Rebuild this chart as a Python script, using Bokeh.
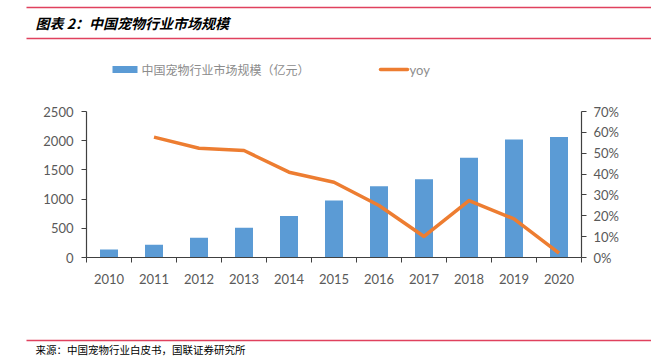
from bokeh.plotting import figure
from bokeh.layouts import column
from bokeh.models import (Range1d, LinearAxis, FixedTicker, NumeralTickFormatter,
                          Label, ColumnDataSource)
from bokeh.embed import file_html
from bokeh.resources import INLINE

years = ["2010", "2011", "2012", "2013", "2014", "2015", "2016", "2017", "2018", "2019", "2020"]
market = [137, 218, 340, 508, 711, 976, 1218, 1338, 1708, 2020, 2065]
yoy = [None, 0.577, 0.524, 0.513, 0.409, 0.361, 0.249, 0.101, 0.273, 0.185, 0.021]
left_ticks = [0, 500, 1000, 1500, 2000, 2500]
right_ticks = [0, 0.1, 0.2, 0.3, 0.4, 0.5, 0.6, 0.7]

title_text = "图表 2：中国宠物行业市场规模"
bar_name = "中国宠物行业市场规模（亿元）"
line_name = "yoy"
source_text = "来源：中国宠物行业白皮书，国联证券研究所"

BLUE = "#5B9BD5"
ORANGE = "#ED7D31"
AXIS = "#404040"
LABEL = "#595959"
RED = "#E0415E"
TICKFONT = "Lato"
CJK = "Noto Sans CJK SC"

W = 651
HEAD_H, MAIN_H, FOOT_H = 100, 200, 56
FL, FR = 86, 581
FT, FB = 111 - HEAD_H, 257 - HEAD_H  # frame top/bottom inside main figure


def deco_fig(h):
    f = figure(width=W, height=h, output_backend="svg", toolbar_location=None,
               x_range=Range1d(0, W), y_range=Range1d(h, 0),
               min_border=0, x_axis_location=None, y_axis_location=None,
               frame_align=False)
    f.outline_line_color = None
    f.grid.visible = False
    return f

# ---------- header: title, rules, legend ----------
head = deco_fig(HEAD_H)
head.segment(x0=[26, 26], y0=[7, 38], x1=[W, W], y1=[7, 38], line_color=RED, line_width=1.3)
head.add_layout(Label(x=35, y=22, text=title_text, text_font=CJK,
                      text_font_style="bold italic", text_font_size="14px",
                      text_color="black", text_baseline="middle"))
# legend swatches and labels
head.quad(left=[112], right=[137], top=[65.5], bottom=[72.5], fill_color=BLUE, line_color=None)
head.segment(x0=[380], y0=[69], x1=[407], y1=[69], line_color=ORANGE, line_width=3.5,
             line_cap="round")
head.add_layout(Label(x=141, y=69, text=bar_name, text_font=CJK, text_font_size="12px",
                      text_color="#8c8c8c", text_baseline="middle"))
head.add_layout(Label(x=409, y=69, text=line_name, text_font=TICKFONT, text_font_size="13px",
                      text_color="#8c8c8c", text_baseline="middle"))

# ---------- main chart ----------
n = len(years)
xc = [i + 0.5 for i in range(n)]
yoy_x = [xc[i] for i in range(n) if yoy[i] is not None]
yoy_y = [v for v in yoy if v is not None]

p = figure(width=W, height=MAIN_H, output_backend="svg", toolbar_location=None,
           x_range=Range1d(0, n), y_range=Range1d(0, 2500),
           min_border_left=FL, min_border_right=W - FR,
           min_border_top=FT, min_border_bottom=MAIN_H - FB,
           x_axis_location=None, y_axis_location=None, frame_align=False)
p.outline_line_color = None
p.grid.visible = False
p.extra_y_ranges = {"pct": Range1d(0, 0.7)}

src = ColumnDataSource(dict(x=xc, market=market))
p.vbar(x="x", top="market", width=0.4, source=src, fill_color=BLUE, line_color=None)
p.line(yoy_x, yoy_y, y_range_name="pct", line_color=ORANGE, line_width=3.5,
       line_join="round")

xax = LinearAxis(ticker=FixedTicker(ticks=xc, minor_ticks=list(range(n + 1))),
                 major_label_overrides={c: y for c, y in zip(xc, years)})
xax.major_tick_line_color = None
xax.minor_tick_in = 0
xax.minor_tick_out = 5
xax.minor_tick_line_color = AXIS
xax.axis_line_color = AXIS
xax.axis_line_width = 1.2
xax.major_label_standoff = 10
xax.major_label_text_font = TICKFONT
xax.major_label_text_font_size = "13px"
xax.major_label_text_color = LABEL
p.add_layout(xax, "below")

yax = LinearAxis(ticker=FixedTicker(ticks=left_ticks))
yax.axis_line_color = AXIS
yax.axis_line_width = 1.2
yax.major_tick_line_color = AXIS
yax.major_tick_in = 0
yax.major_tick_out = 5
yax.minor_tick_line_color = None
yax.major_label_standoff = 8
yax.major_label_text_font = TICKFONT
yax.major_label_text_font_size = "13px"
yax.major_label_text_color = LABEL
p.add_layout(yax, "left")

rax = LinearAxis(y_range_name="pct", ticker=FixedTicker(ticks=right_ticks),
                 formatter=NumeralTickFormatter(format="0%"))
rax.axis_line_color = AXIS
rax.axis_line_width = 1.2
rax.major_tick_line_color = AXIS
rax.major_tick_in = 0
rax.major_tick_out = 5
rax.minor_tick_line_color = None
rax.major_label_standoff = 7
rax.major_label_text_font = TICKFONT
rax.major_label_text_font_size = "13px"
rax.major_label_text_color = LABEL
p.add_layout(rax, "right")

# ---------- footer: rule + source ----------
foot = deco_fig(FOOT_H)
foot.segment(x0=[26], y0=[40], x1=[W], y1=[40], line_color=RED, line_width=1.3)
foot.add_layout(Label(x=35, y=41, text=source_text, text_font=CJK,
                      text_font_size="10.5px", text_color="black", text_baseline="top"))

layout = column(head, p, foot, spacing=0)
open("out.html", "w").write(file_html(layout, INLINE))
